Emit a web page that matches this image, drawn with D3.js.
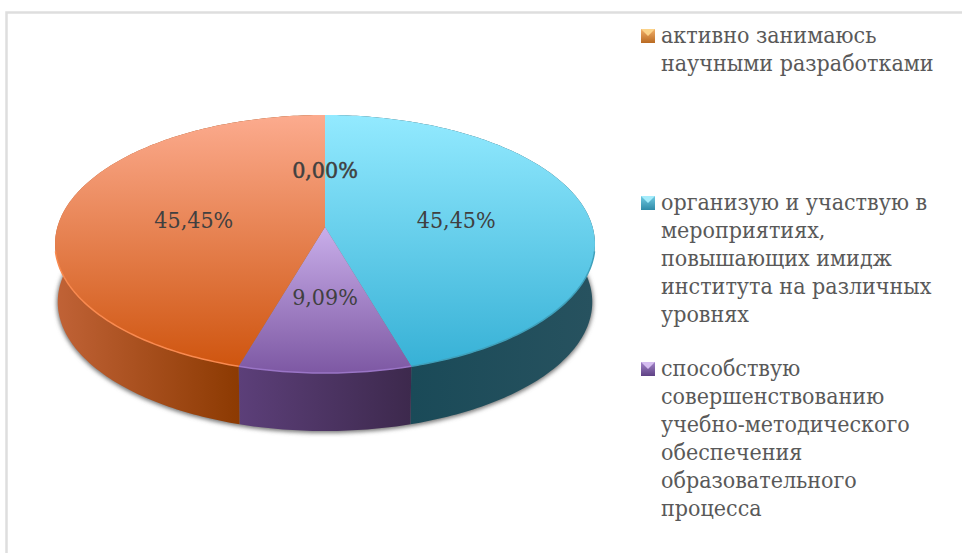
<!DOCTYPE html>
<html>
<head>
<meta charset="utf-8">
<script src="https://cdn.jsdelivr.net/npm/d3@7"></script>
<style>
  html, body { margin: 0; padding: 0; background: #fff; }
  svg { display: block; }
  text { font-family: "DejaVu Serif", "Liberation Serif", serif; font-stretch: condensed; }
</style>
</head>
<body>
<svg width="962" height="553"></svg>
<script>
// данные
var sliceValues = [0, 45.45, 9.09, 45.45];
var sliceLabels = ["0,00%", "45,45%", "9,09%", "45,45%"];

var legendLines = [
    ["активно занимаюсь", "научными разработками"],
    ["организую и участвую в", "мероприятиях,", "повышающих имидж", "института на различных", "уровнях"],
    ["способствую", "совершенствованию", "учебно-методического", "обеспечения", "образовательного", "процесса"]
];
var legendTop = [43, 210, 376];

var topColors = [["#fbc58e", "#e07b22"], ["#93eaff", "#37b1d6"], ["#c9aeea", "#7d58a3"], ["#fcab8e", "#cf550f"]];
var sideColors = [["#c06236", "#8c3a02"], ["#1a4a58", "#27525f"], ["#5c3f79", "#3d294d"], ["#c06236", "#8c3a02"]];
var rimColors = ["#f9a050", "#3fa0bb", "#9a75c6", "#f98a50"];
var swatchColors = [["#f2b06a", "#b96a22", "#fbd38a"], ["#6fcbe2", "#2f8aa8", "#a5ecfb"], ["#a283c8", "#5e4184", "#d5bdf0"]];

var svg = d3.select("svg"),
    width = +svg.attr("width"),
    height = +svg.attr("height");
var defs = svg.append("defs");

// рамка (снизу и справа обрезана)
svg.append("path")
    .attr("d", "M6.5," + height + "V12.5H" + width)
    .attr("fill", "none")
    .attr("stroke", "#dedede")
    .attr("stroke-width", 2.5);

// перспектива: единичный круг -> эллипс, центр круга смещён вверх
var apexX = 325, apexY = 227, persp = 0.1318, scaleV = 126.8, scaleU = 267.6, depth = 58;

function project(u, v, h) {
    var w = 1 - persp * v,
        k = h ? 0.99 : 1;
    return [apexX + k * scaleU * u / w, apexY + scaleV * v / w + (h || 0)];
}
function onDisc(a, r, h) {
    return project(r * Math.sin(a), -r * Math.cos(a), h);
}

var pie = d3.pie().sort(null).value(function (d) { return d; });
var arcs = pie(sliceValues);
var line = d3.line();

function arcPoints(d, h) {
    var n = Math.max(2, Math.ceil((d.endAngle - d.startAngle) * 60));
    return d3.range(n + 1).map(function (i) {
        return onDisc(d.startAngle + (d.endAngle - d.startAngle) * i / n, 1, h);
    });
}
// передняя часть дуги (задний край диска без ободка)
function frontPoints(d) {
    return arcPoints(d, 0).filter(function (p) { return p[1] >= apexY + 24; });
}

// тень под диском
defs.append("filter").attr("id", "blur")
    .attr("x", "-10%").attr("y", "-10%").attr("width", "120%").attr("height", "120%")
    .append("feGaussianBlur").attr("stdDeviation", 2.2);

var whole = { startAngle: 0, endAngle: 2 * Math.PI };
svg.append("path")
    .attr("d", line(arcPoints(whole, depth + 1)) + "Z")
    .attr("fill", "#777")
    .attr("stroke", "#777")
    .attr("stroke-width", 2)
    .attr("filter", "url(#blur)");

// боковые стенки
var visibleLeft = d3.min(arcPoints(whole, depth), function (p) { return p[0]; }),
    visibleRight = d3.max(arcPoints(whole, depth), function (p) { return p[0]; });

arcs.forEach(function (d, i) {
    if (d.value === 0) return;
    var pts = arcPoints(d, 0), low = arcPoints(d, depth),
        xs = pts.concat(low).map(function (p) { return p[0]; });
    var startX = i === 3 ? visibleLeft : d3.min(xs),
        endX = i === 3 ? onDisc(d.startAngle, 1, 0)[0] : d3.max(xs);
    if (i === 1) { startX = onDisc(d.endAngle, 1, 0)[0]; endX = visibleRight; }
    var g = defs.append("linearGradient").attr("id", "side" + i)
        .attr("gradientUnits", "userSpaceOnUse")
        .attr("x1", startX).attr("x2", endX).attr("y1", 0).attr("y2", 0);
    g.append("stop").attr("offset", 0).attr("stop-color", sideColors[i][0]);
    g.append("stop").attr("offset", 1).attr("stop-color", sideColors[i][1]);
    svg.append("path")
        .attr("d", line(pts.concat(low.reverse())) + "Z")
        .attr("fill", "url(#side" + i + ")");
});

// верхняя грань
arcs.forEach(function (d, i) {
    if (d.value === 0) return;
    var pts = arcPoints(d, 0), apex = project(0, 0);
    var ys = pts.concat([apex]).map(function (p) { return p[1]; });
    var g = defs.append("linearGradient").attr("id", "top" + i)
        .attr("gradientUnits", "userSpaceOnUse")
        .attr("x1", 0).attr("x2", 0).attr("y1", d3.min(ys)).attr("y2", d3.max(ys));
    g.append("stop").attr("offset", 0).attr("stop-color", topColors[i][0]);
    g.append("stop").attr("offset", 1).attr("stop-color", topColors[i][1]);
    svg.append("path")
        .attr("d", line([apex].concat(pts)) + "Z")
        .attr("fill", "url(#top" + i + ")");
    svg.append("path")
        .attr("d", line(frontPoints(d)))
        .attr("fill", "none")
        .attr("stroke", rimColors[i])
        .attr("stroke-width", 1.5);
});

// подписи значений
arcs.forEach(function (d, i) {
    var mid = (d.startAngle + d.endAngle) / 2,
        p = onDisc(mid, 0.5, 0),
        t = svg.append("text")
            .attr("x", p[0])
            .attr("y", p[1] + 10)
            .attr("text-anchor", "middle")
            .attr("font-size", 23)
            .attr("fill", "#404040")
            .text(sliceLabels[i]);
    if (d.value === 0) t.attr("stroke", "#404040").attr("stroke-width", 0.5);
});

// легенда
legendLines.forEach(function (lines, i) {
    var g = svg.append("g").attr("transform", "translate(641," + (legendTop[i] - 14) + ")");
    var grad = defs.append("linearGradient").attr("id", "swatch" + i)
        .attr("x1", 0).attr("x2", 0).attr("y1", 0).attr("y2", 1);
    grad.append("stop").attr("offset", 0).attr("stop-color", swatchColors[i][0]);
    grad.append("stop").attr("offset", 1).attr("stop-color", swatchColors[i][1]);
    g.append("rect")
        .attr("width", 14).attr("height", 14)
        .attr("fill", "url(#swatch" + i + ")");
    g.append("path")
        .attr("d", "M0,0H14L7,7Z")
        .attr("fill", swatchColors[i][2]);
    svg.append("text")
        .attr("font-size", 23)
        .attr("fill", "#595959")
        .selectAll("tspan")
        .data(lines)
        .enter().append("tspan")
        .attr("x", 661)
        .attr("y", function (d, j) { return legendTop[i] + j * 28; })
        .text(function (d) { return d; });
});
</script>
</body>
</html>
